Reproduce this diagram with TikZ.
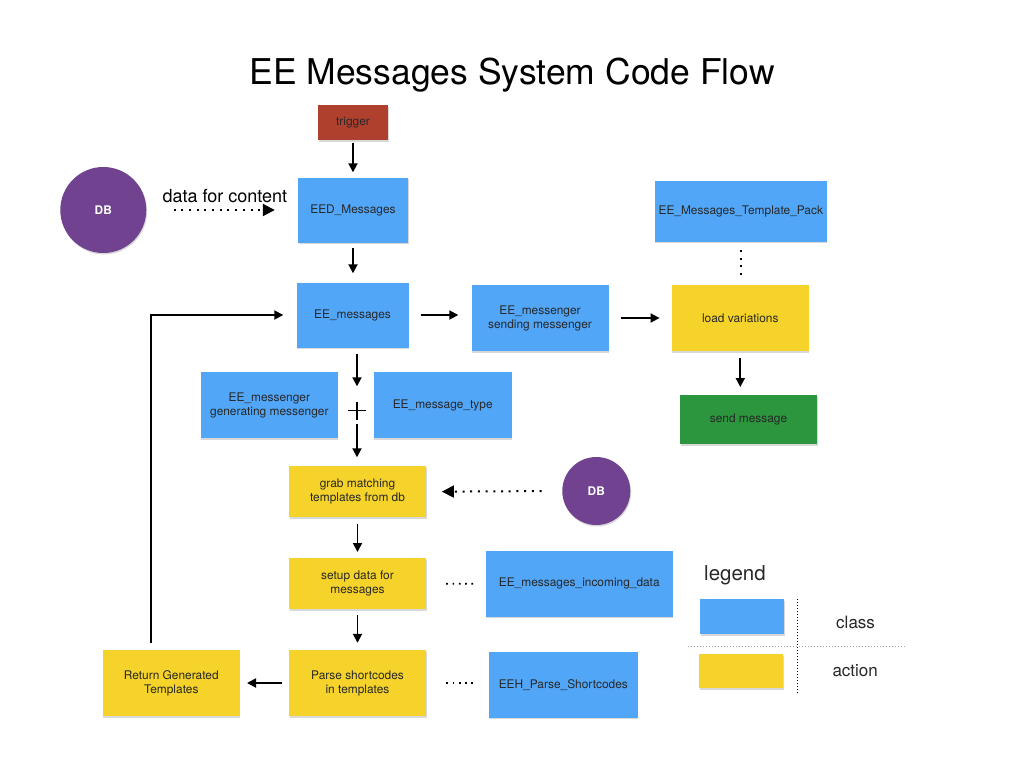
\documentclass[tikz,border=0pt]{standalone}
\usepackage{fontspec}
\setmainfont{TeX Gyre Heros}
\usetikzlibrary{arrows.meta,shadows}

\definecolor{clsblue}{RGB}{81,166,248}
\definecolor{actyellow}{RGB}{245,211,42}
\definecolor{sendgreen}{RGB}{44,150,62}
\definecolor{dbpurple}{RGB}{112,66,143}
\definecolor{trigred}{RGB}{176,64,46}
\definecolor{textgray}{RGB}{40,40,40}
\newcommand{\boxfont}{\fontsize{11.9}{14}\selectfont}

\begin{document}
\begin{tikzpicture}[x=1pt, y=-1pt,
    box/.style={rectangle, minimum width=137pt, minimum height=66pt, inner sep=2pt, align=center, font=\boxfont, text=textgray, drop shadow={shadow xshift=0.6pt, shadow yshift=-1.5pt, opacity=0.3}},
    cls/.style={box, fill=clsblue},
    act/.style={box, fill=actyellow},
    db/.style={circle, inner sep=0pt, fill=dbpurple, text=white, font=\boxfont\bfseries, drop shadow={shadow xshift=0.8pt, shadow yshift=-1.5pt, opacity=0.3}},
    flow/.style={-{Triangle[length=9pt, width=9pt]}, line width=1.8pt},
    dots/.style={line width=2pt, dash pattern=on 2pt off 5.7pt},
    dotflow/.style={dots, -{Triangle[length=12pt, width=12pt]}}]
        \fill[white] (0,0) rectangle (1024,768);
        \useasboundingbox (0,0) rectangle (1024,768);

        \node[anchor=base, font=\fontsize{35.5}{40}\selectfont] (title) at (512,84.5) {EE Messages System Code Flow};

        \node[box, fill=trigred, minimum width=70pt, minimum height=35pt] (trigger) at (353,122.5) {trigger};
        \node[cls, minimum width=110pt, minimum height=65pt] (eed) at (353,210) {EED\_Messages};
        \node[db, minimum size=86pt] (db1) at (103.3,210) {DB};
        \node[anchor=base west, font=\fontsize{18}{20}\selectfont] (datalbl) at (159,202.7) {data for content};

        \node[cls, minimum width=112pt, minimum height=65pt] (msgs) at (352.5,315) {EE\_messages};
        \node[cls] (sending) at (540,318) {EE\_messenger\\sending messenger};
        \node[act] (load) at (740.3,318) {load variations};
        \node[cls, minimum width=172pt, minimum height=61pt] (pack) at (740.8,211.3) {EE\_Messages\_Template\_Pack};
        \node[box, fill=sendgreen, minimum height=49pt] (send) at (748.5,419.7) {send message};

        \node[cls] (generating) at (269.3,405) {EE\_messenger\\generating messenger};
        \node[minimum size=18pt, inner sep=0pt, path picture={\draw[line width=1.9pt] (path picture bounding box.north) -- (path picture bounding box.south) (path picture bounding box.west) -- (path picture bounding box.east);}] (plus) at (357,410.5) {};
        \node[cls, minimum width=138pt] (msgtype) at (442.7,405) {EE\_message\_type};

        \node[act, minimum height=51pt] (grab) at (357.5,491.7) {grab matching\\templates from db};
        \node[db, minimum size=68pt] (db2) at (596.3,491) {DB};
        \node[act, minimum height=51pt] (setup) at (357.5,583.7) {setup data for\\messages};
        \node[cls, minimum width=187pt] (incoming) at (579.3,583.8) {EE\_messages\_incoming\_data};
        \node[act] (parse) at (357.5,683) {Parse shortcodes\\in templates};
        \node[cls, minimum width=149pt] (eeh) at (563.3,684.8) {EEH\_Parse\_Shortcodes};
        \node[act] (ret) at (171.3,683) {Return Generated\\Templates};
        \coordinate (corner) at (151,315);

        \draw[flow, shorten <=3pt, shorten >=5pt] (trigger) -- (eed);
        \draw[flow, shorten <=5pt, shorten >=9pt] (eed) -- (eed.south |- msgs.north);
        \draw[flow, shorten <=12pt, shorten >=13pt] (msgs.east) -- (msgs.east -| sending.west);
        \draw[flow, shorten <=12pt, shorten >=12pt] (sending) -- (load);
        \draw[flow, shorten <=7pt, shorten >=8pt] (load.south) -- (load.south |- send.north);
        \draw[flow, shorten <=6pt, shorten >=15pt] (msgs.south -| plus) -- (plus.north);
        \draw[flow, shorten <=4.5pt, shorten >=8.7pt] (plus.south) -- (plus.south |- grab.north);
        \draw[flow, shorten <=7pt, shorten >=6pt] (grab) -- (setup);
        \draw[flow, shorten <=6pt, shorten >=7pt] (setup) -- (parse);
        \draw[flow, shorten <=7pt, shorten >=7pt] (parse) -- (ret);
        \draw[flow, shorten <=7pt, shorten >=13pt] (ret.north -| corner) -- (corner) -- (msgs.west |- corner);

        \draw[dotflow, shorten <=27pt, shorten >=23pt] (db1) -- (eed);
        \draw[dotflow, shorten <=20.6pt, shorten >=15.7pt] (db2.west) -- (grab.east);
        \draw[dots, shorten <=8pt, shorten >=6pt] (pack.south) -- (pack.south |- load.north);
        \draw[dots, line width=1.7pt, dash pattern=on 1.7pt off 4.6pt, shorten <=20pt, shorten >=8pt] (setup) -- (incoming);
        \draw[dots, line width=1.7pt, dash pattern=on 1.7pt off 4.6pt, shorten <=20pt, shorten >=11pt] (parse.east) -- (parse.east -| eeh.west);

        \node[anchor=base west, font=\fontsize{20.5}{22}\selectfont, text=textgray] (legend) at (700.7,580.7) {legend};
        \node[box, fill=clsblue, minimum width=84pt, minimum height=35pt] (lgcls) at (742,616.5) {};
        \node[box, fill=actyellow, minimum width=84pt, minimum height=34pt] (lgact) at (741,671) {};
        \node[anchor=base west, font=\fontsize{17}{19}\selectfont, text=textgray] (lgclass) at (832.7,628.3) {class};
        \node[anchor=base west, font=\fontsize{17}{19}\selectfont, text=textgray] (lgaction) at (829,676) {action};
        \draw[line width=0.9pt, dash pattern=on 1pt off 2pt] (797,599) -- (797,693);
        \draw[black!35, line width=0.9pt, dash pattern=on 1pt off 2pt] (688,646) -- (907,646);
    \end{tikzpicture}
\end{document}
